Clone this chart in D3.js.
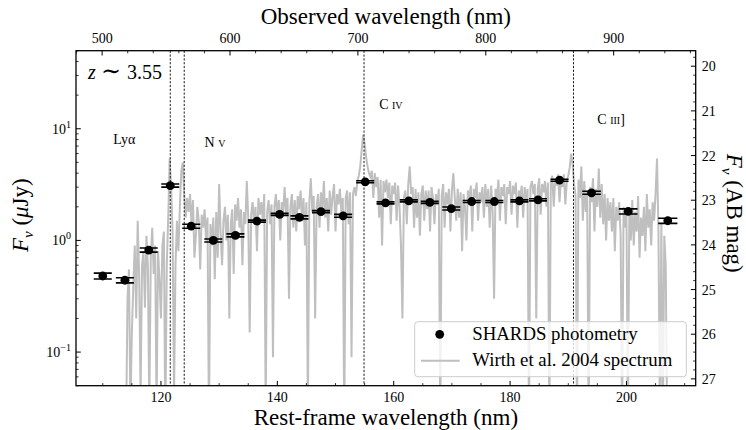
<!DOCTYPE html>
<html>
<head>
<meta charset="utf-8">
<script src="https://cdn.jsdelivr.net/npm/d3@7"></script>
<style>
  body { margin: 0; background: #fff; }
  svg { display: block; }
</style>
</head>
<body>
<svg id="chart" width="746" height="430"></svg>
<script>
// ---- SHARDS photometry (rest-frame nm, flux in microJansky) ----
const photWave = [110.0, 113.8, 117.9, 121.6, 125.2, 129.0, 132.8, 136.5, 140.4, 143.8,
                  147.5, 151.3, 155.1, 158.6, 162.6, 166.2, 169.9, 173.4, 177.3, 181.6,
                  184.8, 188.5, 194.0, 200.3, 207.1];
const photFlux = [0.48, 0.44, 0.82, 3.10, 1.34, 1.00, 1.11, 1.49, 1.71, 1.61,
                  1.81, 1.66, 3.35, 2.17, 2.26, 2.19, 1.93, 2.23, 2.23, 2.26,
                  2.31, 3.46, 2.67, 1.82, 1.50];
const photFluxErr = [0.029, 0.023, 0.034, 0.10, 0.056, 0.031, 0.034, 0.031, 0.035, 0.05,
                     0.037, 0.05, 0.07, 0.045, 0.047, 0.045, 0.06, 0.046, 0.046, 0.047,
                     0.048, 0.07, 0.083, 0.096, 0.08];
const photHalfWidth = [1.55, 1.55, 1.55, 1.55, 1.55, 1.55, 1.55, 1.55, 1.55, 1.55,
                       1.55, 1.55, 1.55, 1.55, 1.55, 1.55, 1.55, 1.55, 1.55, 1.55,
                       1.55, 1.55, 1.6, 1.6, 1.65];

// ---- Wirth et al. 2004 spectrum, rest frame, sampled every 0.25 nm from 114.00 nm ----
// one row per nm: flux at x.00, x.25, x.50, x.75
const specStart = 114.0;
const specStep = 0.25;
const specFlux = [
  /*114*/ 0.02, 0.3, 0.55, 0.03,
  /*115*/ 0.15, 0.4, 0.9, 0.2,
  /*116*/ 1.5, 0.5, 0.04, 0.6,
  /*117*/ 0.8, 0.25, 1.1, 0.6,
  /*118*/ 0.03, 0.7, 1.3, 0.5,
  /*119*/ 0.9, 0.03, 0.8, 0.45,
  /*120*/ 0.2, 0.9, 1.2, 0.02,
  /*121*/ 0.6, 1.6, 5.4, 3.0,
  /*122*/ 1.2, 0.04, 0.6, 1.5,
  /*123*/ 0.8, 2.0, 4.2, 5.0,
  /*124*/ 2.6, 1.6, 2.4, 1.8,
  /*125*/ 2.6, 1.4, 2.3, 0.7,
  /*126*/ 1.1, 2.0, 1.5, 0.55,
  /*127*/ 1.7, 1.3, 1.9, 1.0,
  /*128*/ 1.6, 0.02, 1.4, 0.9,
  /*129*/ 1.6, 0.45, 1.8, 0.7,
  /*130*/ 3.2, 1.2, 0.6, 1.5,
  /*131*/ 2.0, 1.0, 1.7, 0.2,
  /*132*/ 1.4, 1.9, 0.5, 2.1,
  /*133*/ 1.5, 2.4, 1.3, 1.9,
  /*134*/ 0.6, 1.8, 1.4, 3.4,
  /*135*/ 1.6, 0.15, 1.7, 2.2,
  /*136*/ 1.4, 2.0, 0.8, 2.4,
  /*137*/ 1.7, 2.2, 1.5, 2.6,
  /*138*/ 0.03, 1.8, 2.3, 1.4,
  /*139*/ 2.1, 0.09, 2.0, 2.6,
  /*140*/ 1.6, 2.3, 1.0, 2.2,
  /*141*/ 1.8, 3.0, 1.7, 2.4,
  /*142*/ 0.3, 2.0, 2.6, 1.3,
  /*143*/ 2.3, 1.2, 2.5, 1.9,
  /*144*/ 2.8, 1.5, 2.4, 0.9,
  /*145*/ 2.2, 0.03, 2.2, 3.6,
  /*146*/ 1.8, 2.5, 0.2, 2.0,
  /*147*/ 2.6, 1.3, 2.7, 1.9,
  /*148*/ 3.4, 1.6, 2.4, 1.2,
  /*149*/ 2.8, 1.7, 2.5, 3.2,
  /*150*/ 1.2, 2.6, 2.1, 2.9,
  /*151*/ 1.8, 2.4, 0.02, 2.4,
  /*152*/ 2.8, 1.4, 2.7, 0.09,
  /*153*/ 2.6, 3.0, 2.5, 3.4,
  /*154*/ 3.8, 4.6, 6.5, 8.8,
  /*155*/ 7.4, 5.6, 4.6, 4.0,
  /*156*/ 3.7, 4.2, 2.4, 4.0,
  /*157*/ 3.0, 3.7, 1.6, 3.5,
  /*158*/ 0.9, 3.4, 2.7, 3.5,
  /*159*/ 2.4, 3.3, 1.4, 3.1,
  /*160*/ 2.6, 3.3, 1.5, 3.1,
  /*161*/ 2.0, 0.9, 0.2, 2.4,
  /*162*/ 2.8, 1.4, 3.2, 4.6,
  /*163*/ 2.6, 3.0, 1.3, 2.9,
  /*164*/ 1.6, 2.7, 1.1, 2.6,
  /*165*/ 3.1, 1.5, 2.8, 1.9,
  /*166*/ 2.8, 1.2, 3.0, 2.4,
  /*167*/ 1.4, 2.6, 2.1, 2.9,
  /*168*/ 0.02, 2.5, 3.2, 1.3,
  /*169*/ 2.7, 2.1, 2.9, 1.2,
  /*170*/ 2.8, 4.0, 2.4, 1.5,
  /*171*/ 2.9, 1.6, 2.7, 0.8,
  /*172*/ 2.6, 2.0, 1.0, 2.8,
  /*173*/ 2.3, 3.1, 1.2, 2.9,
  /*174*/ 2.4, 3.3, 1.5, 2.7,
  /*175*/ 2.2, 3.0, 1.6, 3.2,
  /*176*/ 2.0, 2.9, 1.3, 3.1,
  /*177*/ 1.8, 0.3, 2.9, 2.4,
  /*178*/ 3.5, 1.5, 3.0, 2.5,
  /*179*/ 3.2, 1.4, 3.0, 2.6,
  /*180*/ 3.4, 1.7, 3.1, 2.6,
  /*181*/ 3.3, 1.3, 2.8, 2.4,
  /*182*/ 3.1, 1.6, 3.0, 2.3,
  /*183*/ 2.9, 0.02, 3.0, 3.4,
  /*184*/ 2.6, 3.2, 0.2, 2.9,
  /*185*/ 3.6, 1.7, 3.2, 2.7,
  /*186*/ 3.4, 2.0, 3.3, 0.02,
  /*187*/ 3.3, 3.8, 2.0, 3.5,
  /*188*/ 3.1, 3.9, 2.2, 3.6,
  /*189*/ 3.0, 3.9, 2.1, 3.4,
  /*190*/ 3.8, 4.5, 6.0, 4.8,
  /*191*/ 3.2, 2.5, 0.02, 3.5,
  /*192*/ 2.4, 4.6, 1.5, 3.4,
  /*193*/ 1.8, 2.8, 0.02, 3.0,
  /*194*/ 2.2, 3.6, 1.2, 2.9,
  /*195*/ 2.0, 4.4, 1.6, 3.2,
  /*196*/ 1.4, 2.6, 1.0, 2.4,
  /*197*/ 1.5, 2.2, 1.2, 2.4,
  /*198*/ 0.8, 2.0, 1.5, 2.2,
  /*199*/ 1.1, 0.02, 2.0, 1.3,
  /*200*/ 1.8, 0.02, 1.9, 1.0,
  /*201*/ 2.3, 0.9, 1.8, 1.2,
  /*202*/ 2.5, 0.7, 1.6, 1.1,
  /*203*/ 2.0, 0.8, 2.6, 1.3,
  /*204*/ 1.9, 0.9, 2.2, 1.5,
  /*205*/ 2.6, 5.4, 1.2, 0.02,
  /*206*/ 1.4, 0.02, 1.1, 0.6,
  /*207*/ 0.02
];

// ---- emission lines ----
const lineNames = ["Ly\u03b1", "N v", "C iv", "C iii]"];
const lineSmallCaps = [false, true, true, true];
const lineWaves = [121.6, 124.0, 154.9, 190.9];
const lineLabelWave = [111.8, 127.5, 157.5, 195.0];
const lineLabelFlux = [7.3, 6.9, 15.0, 11.0];

// ---- axes ----
const redshift = 3.55;
const restDomain = [105.4, 211.9];
const fluxDomain = [0.05, 50];
const restTicks = [120, 140, 160, 180, 200];
const obsTicks = [500, 600, 700, 800, 900];
const fluxTicks = [0.1, 1, 10];
const fluxTickExp = ["\u22121", "0", "1"];
const magTicks = [20, 21, 22, 23, 24, 25, 26, 27];

const FONT = "'Liberation Serif', 'Times New Roman', Times, 'DejaVu Serif', serif";

const svg = d3.select("#chart").attr("font-family", FONT);
const M = { l: 76, r: 695.7, t: 50.7, b: 385.7 };

const x = d3.scaleLinear().domain(restDomain).range([M.l, M.r]);
const xObs = d3.scaleLinear().domain(restDomain.map(d => d * (1 + redshift))).range([M.l, M.r]);
const y = d3.scaleLog().domain(fluxDomain).range([M.b, M.t]);
const toMag = f => 23.9 - 2.5 * Math.log10(f);
const yMag = d3.scaleLinear().domain(fluxDomain.map(toMag)).range([M.b, M.t]);

svg.append("defs").append("clipPath").attr("id", "plotClip")
  .append("rect").attr("x", M.l).attr("y", M.t).attr("width", M.r - M.l).attr("height", M.b - M.t);

const plot = svg.append("g").attr("clip-path", "url(#plotClip)");

// spectrum
const spec = specFlux.map((f, i) => ({ w: specStart + i * specStep, f: f }));
plot.append("path")
  .datum(spec)
  .attr("fill", "none")
  .attr("stroke", "#bfbfbf")
  .attr("stroke-width", 2)
  .attr("stroke-linejoin", "miter")
  .attr("d", d3.line().x(d => x(d.w)).y(d => y(Math.max(d.f, 0.01))));

// emission line markers
plot.selectAll("line.em").data(lineWaves).join("line")
  .attr("x1", d => x(d)).attr("x2", d => x(d))
  .attr("y1", M.t).attr("y2", M.b)
  .attr("stroke", "#000").attr("stroke-width", 0.9)
  .attr("stroke-dasharray", "2.2,1.6");

// photometry
const phot = photWave.map((w, i) => ({ w, f: photFlux[i], e: photFluxErr[i], hw: photHalfWidth[i] }));
const pg = plot.append("g");
phot.forEach(p => {
  [p.f + p.e, p.f - p.e].forEach(v => {
    pg.append("line")
      .attr("x1", x(p.w - p.hw)).attr("x2", x(p.w + p.hw))
      .attr("y1", y(v)).attr("y2", y(v))
      .attr("stroke", "#000").attr("stroke-width", 1.6);
  });
  pg.append("line")
    .attr("x1", x(p.w)).attr("x2", x(p.w))
    .attr("y1", y(p.f + p.e)).attr("y2", y(p.f - p.e))
    .attr("stroke", "#000").attr("stroke-width", 1.6);
});
pg.selectAll("circle").data(phot).join("circle")
  .attr("cx", d => x(d.w)).attr("cy", d => y(d.f)).attr("r", 4.4).attr("fill", "#000");

// ---- ticks (pointing inward) ----
const axes = svg.append("g");
const MAJ = 4.8, MIN = 2.6;
function tickGroup(cls) { return axes.append("g").attr("class", cls); }

// bottom: rest-frame wavelength
const restMinor = d3.range(110, 212, 5).filter(v => v % 20 !== 0);
const gB = tickGroup("bottom");
gB.selectAll("line.maj").data(restTicks).join("line")
  .attr("x1", d => x(d)).attr("x2", d => x(d)).attr("y1", M.b).attr("y2", M.b - MAJ)
  .attr("stroke", "#000").attr("stroke-width", 1);
gB.selectAll("line.min").data(restMinor).join("line")
  .attr("x1", d => x(d)).attr("x2", d => x(d)).attr("y1", M.b).attr("y2", M.b - MIN)
  .attr("stroke", "#000").attr("stroke-width", 0.8);
gB.selectAll("text").data(restTicks).join("text")
  .attr("x", d => x(d)).attr("y", M.b + 16).attr("text-anchor", "middle")
  .attr("font-size", 14).text(d => d);

// top: observed wavelength
const obsMinor = d3.range(480, 965, 20).filter(v => v % 100 !== 0);
const gT = tickGroup("top");
gT.selectAll("line.maj").data(obsTicks).join("line")
  .attr("x1", d => xObs(d)).attr("x2", d => xObs(d)).attr("y1", M.t).attr("y2", M.t + MAJ)
  .attr("stroke", "#000").attr("stroke-width", 1);
gT.selectAll("line.min").data(obsMinor).join("line")
  .attr("x1", d => xObs(d)).attr("x2", d => xObs(d)).attr("y1", M.t).attr("y2", M.t + MIN)
  .attr("stroke", "#000").attr("stroke-width", 0.8);
gT.selectAll("text").data(obsTicks).join("text")
  .attr("x", d => xObs(d)).attr("y", M.t - 8).attr("text-anchor", "middle")
  .attr("font-size", 14).text(d => d);

// left: log flux
const fluxMinor = [];
[0.01, 0.1, 1, 10].forEach(dec => {
  for (let k = 2; k <= 9; k++) {
    const v = dec * k;
    if (v > fluxDomain[0] * 0.999 && v < fluxDomain[1] * 1.001) fluxMinor.push(v);
  }
});
const gL = tickGroup("left");
gL.selectAll("line.maj").data(fluxTicks).join("line")
  .attr("x1", M.l).attr("x2", M.l + MAJ).attr("y1", d => y(d)).attr("y2", d => y(d))
  .attr("stroke", "#000").attr("stroke-width", 1);
gL.selectAll("line.min").data(fluxMinor).join("line")
  .attr("x1", M.l).attr("x2", M.l + MIN).attr("y1", d => y(d)).attr("y2", d => y(d))
  .attr("stroke", "#000").attr("stroke-width", 0.8);
fluxTicks.forEach((v, i) => {
  const t = gL.append("text").attr("x", M.l - 5).attr("y", y(v) + 5)
    .attr("text-anchor", "end").attr("font-size", 14);
  t.append("tspan").text("10");
  t.append("tspan").attr("dy", -6).attr("font-size", 10).text(fluxTickExp[i]);
});

// right: AB magnitude
const magMinor = d3.range(19.8, 27.01, 0.2).map(v => Math.round(v * 10) / 10)
  .filter(v => Math.abs(v - Math.round(v)) > 0.01);
const gR = tickGroup("right");
gR.selectAll("line.maj").data(magTicks).join("line")
  .attr("x1", M.r).attr("x2", M.r - MAJ).attr("y1", d => yMag(d)).attr("y2", d => yMag(d))
  .attr("stroke", "#000").attr("stroke-width", 1);
gR.selectAll("line.min").data(magMinor).join("line")
  .attr("x1", M.r).attr("x2", M.r - MIN).attr("y1", d => yMag(d)).attr("y2", d => yMag(d))
  .attr("stroke", "#000").attr("stroke-width", 0.8);
gR.selectAll("text").data(magTicks).join("text")
  .attr("x", M.r + 6).attr("y", d => yMag(d) + 5)
  .attr("font-size", 14).text(d => d);

// frame
svg.append("rect").attr("x", M.l).attr("y", M.t)
  .attr("width", M.r - M.l).attr("height", M.b - M.t)
  .attr("fill", "none").attr("stroke", "#000").attr("stroke-width", 1.3);

// ---- axis titles ----
const cx = (M.l + M.r) / 2;
svg.append("text").attr("x", cx).attr("y", 425).attr("text-anchor", "middle")
  .attr("font-size", 23).text("Rest-frame wavelength (nm)");
svg.append("text").attr("x", cx).attr("y", 24).attr("text-anchor", "middle")
  .attr("font-size", 23).text("Observed wavelength (nm)");

function fnuLabel(g, rest) {
  g.append("tspan").attr("font-style", "italic").text("F");
  g.append("tspan").attr("dy", 5).attr("font-size", 15).attr("font-style", "italic").text("\u03bd");
  g.append("tspan").attr("dy", -5).text(" ");
  rest(g);
}
const yl = svg.append("text").attr("transform", `translate(28,${(M.t + M.b) / 2 - 3}) rotate(-90)`)
  .attr("text-anchor", "middle").attr("font-size", 23);
fnuLabel(yl, g => {
  g.append("tspan").text("(");
  g.append("tspan").attr("font-style", "italic").text("\u03bc");
  g.append("tspan").text("Jy)");
});
const yr = svg.append("text").attr("transform", `translate(727,${(M.t + M.b) / 2 - 5}) rotate(90)`)
  .attr("text-anchor", "middle").attr("font-size", 23);
fnuLabel(yr, g => g.append("tspan").text("(AB mag)"));

// ---- redshift label ----
const zl = svg.append("text").attr("x", 88).attr("y", 79).attr("font-size", 20);
zl.append("tspan").attr("font-style", "italic").text("z");
zl.append("tspan").attr("x", 101).attr("font-size", 24).text("\u223c");
zl.append("tspan").attr("x", 127).text("3.55");

// ---- emission line labels ----
lineNames.forEach((n, i) => {
  svg.append("text")
    .attr("x", x(lineLabelWave[i])).attr("y", y(lineLabelFlux[i]))
    .attr("font-size", 14)
    .attr("font-variant", lineSmallCaps[i] ? "small-caps" : "normal")
    .text(n);
});

// ---- legend ----
const lg = svg.append("g");
lg.append("rect").attr("x", 414.7).attr("y", 321.7).attr("width", 271.6).attr("height", 55)
  .attr("rx", 3).attr("fill", "#fff").attr("fill-opacity", 0.8)
  .attr("stroke", "#cccccc").attr("stroke-width", 1);
lg.append("circle").attr("cx", 439.7).attr("cy", 334.3).attr("r", 4.4).attr("fill", "#000");
lg.append("text").attr("x", 472.3).attr("y", 340).attr("font-size", 18.8).text("SHARDS photometry");
lg.append("line").attr("x1", 421).attr("x2", 459.7).attr("y1", 360.7).attr("y2", 360.7)
  .attr("stroke", "#bfbfbf").attr("stroke-width", 2);
lg.append("text").attr("x", 472.3).attr("y", 366.3).attr("font-size", 18.8).text("Wirth et al. 2004 spectrum");
</script>
</body>
</html>
